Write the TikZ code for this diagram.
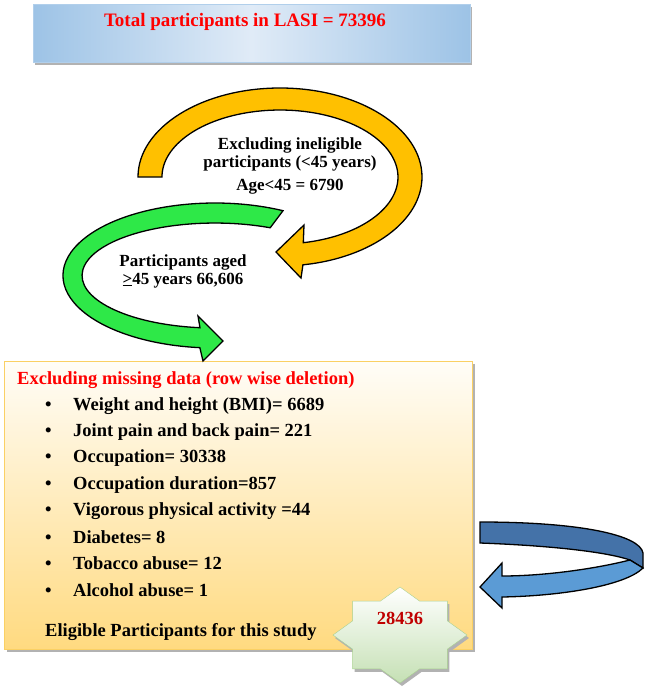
\documentclass[tikz,border=0pt]{standalone}
\usepackage{fontspec}
\setmainfont{Liberation Serif}

\definecolor{boxblue}{RGB}{157,195,230}
\definecolor{boxlight}{RGB}{224,235,247}
\definecolor{arrowyellow}{RGB}{255,192,0}
\definecolor{arrowgreen}{RGB}{46,232,72}
\definecolor{bluedark}{RGB}{68,114,168}
\definecolor{bluelight}{RGB}{91,155,213}
\definecolor{orangetop}{RGB}{255,253,248}
\definecolor{orangebot}{RGB}{255,218,128}
\definecolor{orangeedge}{RGB}{250,208,100}
\definecolor{stargreen}{RGB}{197,224,180}
\definecolor{staredge}{RGB}{169,209,142}
\definecolor{numred}{RGB}{192,0,0}

\begin{document}
\begin{tikzpicture}[x=1pt,y=-1pt,
  title/.style={font=\bfseries\fontsize{19}{22}\selectfont, text=red, inner sep=0pt},
  item/.style={font=\bfseries\fontsize{18.5}{22}\selectfont, anchor=west, inner sep=0pt},
  note/.style={font=\bfseries\fontsize{17}{18}\selectfont, align=center, inner sep=0pt},
  shadow/.style={fill=black!30},
  fatarrow/.style={draw=black, line width=1.3pt, line join=miter}]

\useasboundingbox (0,0) rectangle (649,688);

% Top box
\fill[shadow] (35,7) rectangle (472,65);
\shadedraw[draw=boxblue!80, left color=boxblue, right color=boxblue, middle color=boxlight]
  (33,4) rectangle (470,62);
\node[title] (total) at (245,22) {Total participants in LASI = 73396};

% Yellow arrow
\draw[fatarrow, fill=arrowyellow] (138,177)
  arc[start angle=180, end angle=440.7, x radius=142, y radius=89]
  -- (301,278) -- (276,252) -- (304,225) -- (303.3,242.7)
  arc[start angle=438.6, end angle=180, x radius=118, y radius=67] -- cycle;
\node[note] (exclage) at (290,165.5)
  {Excluding ineligible\\participants (<45 years)\\[5pt]Age<45 = 6790};

% Orange box
\fill[shadow] (7,364) rectangle (475,652);
\shadedraw[draw=orangeedge, top color=orangetop, bottom color=orangebot]
  (4,361) rectangle (472,649);
\node[item, text=red] (missing) at (17,380) {Excluding missing data (row wise deletion)};
\node[item] (bmi) at (45,406) {\makebox[28pt][l]{\textbullet}Weight and height (BMI)= 6689};
\node[item] (pain) at (45,432) {\makebox[28pt][l]{\textbullet}Joint pain and back pain= 221};
\node[item] (occ) at (45,458) {\makebox[28pt][l]{\textbullet}Occupation= 30338};
\node[item] (dur) at (45,485) {\makebox[28pt][l]{\textbullet}Occupation duration=857};
\node[item] (vig) at (45,511) {\makebox[28pt][l]{\textbullet}Vigorous physical activity =44};
\node[item] (diab) at (45,537) {\makebox[28pt][l]{\textbullet}Diabetes= 8};
\node[item] (tob) at (45,563) {\makebox[28pt][l]{\textbullet}Tobacco abuse= 12};
\node[item] (alc) at (45,590) {\makebox[28pt][l]{\textbullet}Alcohol abuse= 1};
\node[item] (eligible) at (45,632) {Eligible Participants for this study};

% Green arrow
\draw[fatarrow, fill=arrowgreen] (283,210.7)
  arc[start angle=-63.4, end angle=-264.3, x radius=152, y radius=72.5]
  -- (203,361) -- (223,341) -- (198,316) -- (200,327.7)
  arc[start angle=-263.5, end angle=-65.5, x radius=133, y radius=52.5] -- cycle;
\node[note] (aged) at (183,271) {Participants aged\\\underline{>}45 years 66,606};

% Blue arrow
\draw[fatarrow, fill=bluedark] (480,522) .. controls (580,522) and (640,535) .. (643,553)
  -- (643,568) -- (630,560) .. controls (610,553) and (560,546) .. (480,543) -- cycle;
\draw[fatarrow, fill=bluelight] (630,560) -- (643,568)
  .. controls (625,586) and (560,596) .. (502,597) -- (502,608) -- (480,587)
  -- (502,563) -- (502,576) .. controls (540,576) and (590,570) .. (630,560);

% Star
\fill[shadow, shift={(2,3)}] (400,587) -- (419.6,601.1) -- (447.4,601.1) -- (447.4,620.9)
  -- (467,635) -- (447.4,649.1) -- (447.4,668.9) -- (419.6,668.9) -- (400,683)
  -- (380.4,668.9) -- (352.6,668.9) -- (352.6,649.1) -- (333,635) -- (352.6,620.9)
  -- (352.6,601.1) -- (380.4,601.1) -- cycle;
\shadedraw[draw=staredge, top color=white, bottom color=stargreen]
  (400,587) -- (419.6,601.1) -- (447.4,601.1) -- (447.4,620.9)
  -- (467,635) -- (447.4,649.1) -- (447.4,668.9) -- (419.6,668.9) -- (400,683)
  -- (380.4,668.9) -- (352.6,668.9) -- (352.6,649.1) -- (333,635) -- (352.6,620.9)
  -- (352.6,601.1) -- (380.4,601.1) -- cycle;
\node[title, text=numred, font=\bfseries\fontsize{18.5}{22}\selectfont] (count) at (400,618) {28436};

\end{tikzpicture}
\end{document}
